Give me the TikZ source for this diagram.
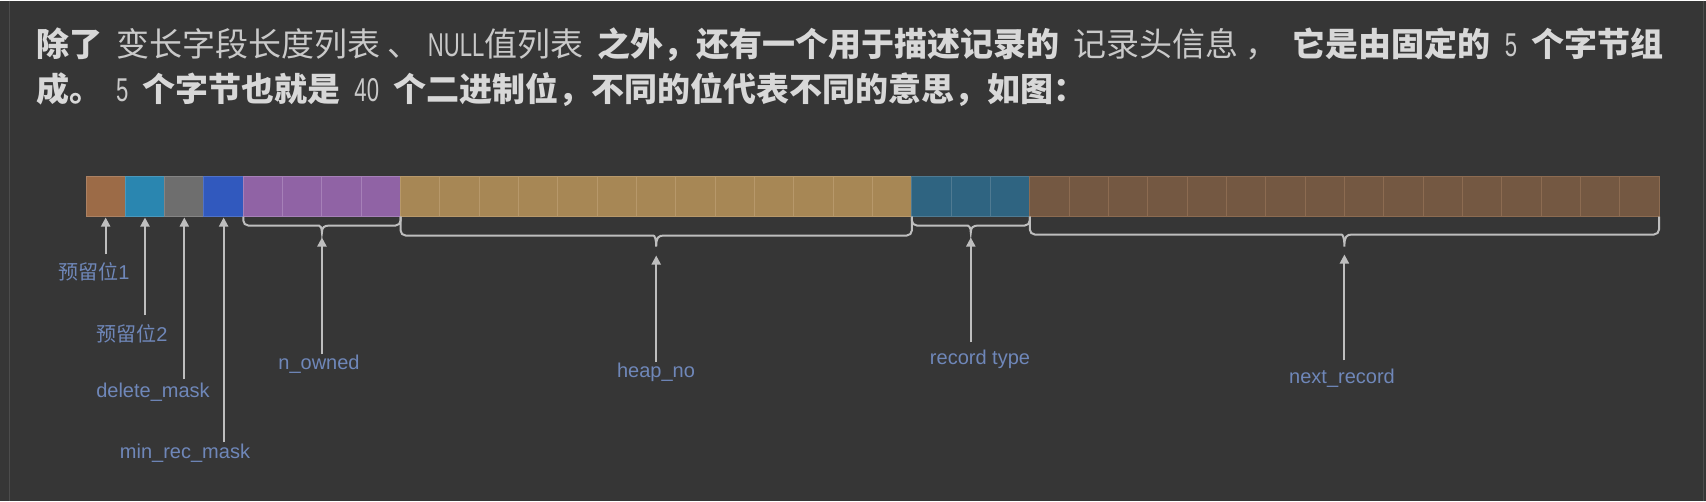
\documentclass[tikz,border=0pt]{standalone}
\usepackage{fontspec}
\setmainfont{Liberation Sans}
\newfontfamily\cjk{Noto Sans CJK SC}
\newfontfamily\narrowfont[FakeStretch=0.67]{Liberation Sans}
\usetikzlibrary{arrows.meta,positioning,calc}

\definecolor{bgcol}{HTML}{363636}
\definecolor{framecol}{HTML}{4C4C4C}
\definecolor{maintext}{HTML}{D8D8D8}
\definecolor{codetext}{HTML}{C9C9C9}
\definecolor{lblcol}{HTML}{6F87B9}
\definecolor{wirecol}{HTML}{BEBEBE}
\definecolor{resone}{HTML}{9C6B47}
\definecolor{restwo}{HTML}{2A86B0}
\definecolor{delcol}{HTML}{6E6E6E}
\definecolor{mincol}{HTML}{3159BE}
\definecolor{ownfill}{HTML}{9063A5}
\definecolor{ownline}{HTML}{A680B8}
\definecolor{heapfill}{HTML}{A78755}
\definecolor{heapline}{HTML}{B7986A}
\definecolor{typefill}{HTML}{2F6481}
\definecolor{typeline}{HTML}{4F7A92}
\definecolor{nextfill}{HTML}{745842}
\definecolor{nextline}{HTML}{8C6B51}

\def\cw{39.325pt}
\newcommand{\code}[1]{\hspace{14pt}{\mdseries\color{codetext}#1}\hspace{14pt}}
% brace under a field: node, level, cusp depth
\newcommand{\fieldbrace}[3]{%
\draw[brace] (#1.south west) [rounded corners=5pt]
-- ($(#1.south west)+(0,#2)$)
-- ($(#1.south)+(-8,#2)$) [sharp corners]
.. controls ($(#1.south)+(-2,#2)$) and ($(#1.south)+(0,#2+2)$) .. ($(#1.south)+(0,#3)$)
.. controls ($(#1.south)+(0,#2+2)$) and ($(#1.south)+(2,#2)$) .. ($(#1.south)+(8,#2)$) [rounded corners=5pt]
-- ($(#1.south east)+(0,#2)$)
-- (#1.south east);
\coordinate (#1-tip) at ($(#1.south)+(0,#3)$);}

\begin{document}
\begin{tikzpicture}[x=1pt,y=-1pt]
\tikzset{field/.style={line width=1pt, minimum height=40pt, inner sep=0pt, outer sep=0pt, anchor=north west}}
\tikzset{divider/.style={line width=1pt}}
\tikzset{brace/.style={draw=wirecol, line width=2pt}}
\tikzset{arr/.style={draw=wirecol, line width=2pt, -{Triangle[length=9pt,width=9pt]}}}
\tikzset{lbl/.style={font=\fontsize{20}{24}\selectfont, text=lblcol, text height=15pt, text depth=5pt, inner sep=0pt}}
\tikzset{para/.style={anchor=base west, inner sep=0pt, text=maintext, font=\cjk\bfseries\fontsize{33}{40}\selectfont}}

\fill[bgcol] (0,0) rectangle (1706,500);
\draw[framecol, line width=1pt] (9,0) -- (9,500);
\draw[framecol, line width=1pt] (1703,0) -- (1703,500);

% text above
\node[para] (line1) at (36,56) {除了\code{变长字段长度列表 、 {\narrowfont NULL}值列表}之外，还有一个用于描述记录的\code{记录头信息 ，}它是由固定的\code{{\narrowfont 5}}个字节组};
\node[para] (line2) at (36,101) {成。\code{{\narrowfont 5}}个字节也就是\code{{\narrowfont 40}}个二进制位，不同的位代表不同的意思，如图：};

% the 40 bits
\node[field, fill=resone, draw=resone!85!white, minimum width=\cw] (res1) at (86,176) {};
\node[field, fill=restwo, draw=restwo!85!white, minimum width=\cw, right=0pt of res1] (res2) {};
\node[field, fill=delcol, draw=delcol!85!white, minimum width=\cw, right=0pt of res2] (delmask) {};
\node[field, fill=mincol, draw=mincol!85!white, minimum width=\cw, right=0pt of delmask] (minmask) {};
\node[field, fill=ownfill, draw=ownline, minimum width=4*\cw, right=0pt of minmask] (owned) {};
\node[field, fill=heapfill, draw=heapline, minimum width=13*\cw, right=0pt of owned] (heap) {};
\node[field, fill=typefill, draw=typeline, minimum width=3*\cw, right=0pt of heap] (rtype) {};
\node[field, fill=nextfill, draw=nextline, minimum width=16*\cw, right=0pt of rtype] (next) {};

\foreach \i in {1,...,3}
\draw[divider, ownline] ($(owned.north west)+(\i*\cw,0)$) -- ($(owned.south west)+(\i*\cw,0)$);
\foreach \i in {1,...,12}
\draw[divider, heapline] ($(heap.north west)+(\i*\cw,0)$) -- ($(heap.south west)+(\i*\cw,0)$);
\foreach \i in {1,2}
\draw[divider, typeline] ($(rtype.north west)+(\i*\cw,0)$) -- ($(rtype.south west)+(\i*\cw,0)$);
\foreach \i in {1,...,15}
\draw[divider, nextline] ($(next.north west)+(\i*\cw,0)$) -- ($(next.south west)+(\i*\cw,0)$);

% braces
\fieldbrace{owned}{9}{16}
\fieldbrace{heap}{19}{30}
\fieldbrace{rtype}{9}{16}
\fieldbrace{next}{18}{30}

% labels
\node[lbl] (lres1) at (94,274) {{\cjk 预留位}1};
\node[lbl] (lres2) at (132,336) {{\cjk 预留位}2};
\node[lbl] (ldel) at (153,392) {delete\_mask};
\node[lbl] (lmin) at (185,453) {min\_rec\_mask};
\node[lbl] (lown) at (319,364) {n\_owned};
\node[lbl] (lheap) at (656,372) {heap\_no};
\node[lbl] (ltype) at (980,359) {record type};
\node[lbl] (lnext) at (1342,378) {next\_record};

% arrows
\draw[arr, shorten <=10pt, shorten >=1pt] (lres1.north -| res1) -- (res1.south);
\draw[arr, shorten <=11pt, shorten >=1pt] (lres2.north -| res2) -- (res2.south);
\draw[arr, shorten <=3pt, shorten >=1pt] (ldel.north -| delmask) -- (delmask.south);
\draw[arr, shorten <=1pt, shorten >=1pt] (lmin.north -| minmask) -- (minmask.south);
\draw[arr, shorten >=5pt] (lown.north -| owned) -- (owned-tip);
\draw[arr, shorten >=9pt] (lheap.north -| heap) -- (heap-tip);
\draw[arr, shorten <=7pt, shorten >=5pt] (ltype.north -| rtype) -- (rtype-tip);
\draw[arr, shorten <=8pt, shorten >=8pt] (lnext.north -| next) -- (next-tip);
\end{tikzpicture}
\end{document}
